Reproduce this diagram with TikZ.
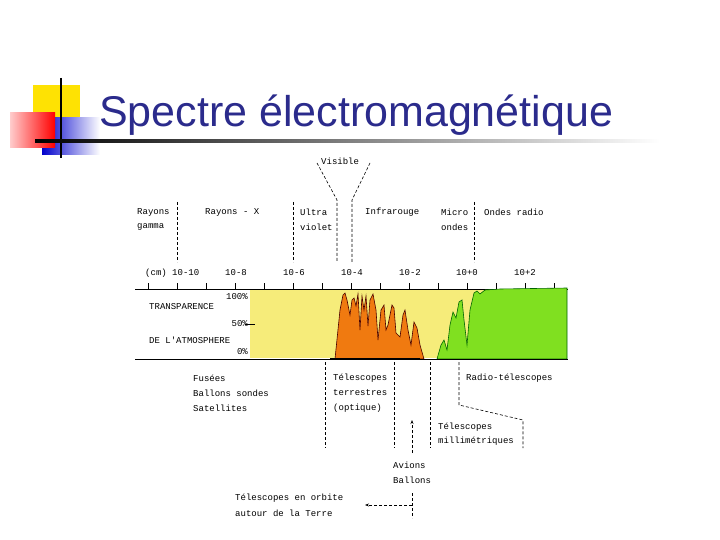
\documentclass[tikz,border=0pt]{standalone}
\usepackage{fontspec}
\setmainfont{Liberation Sans}
\newfontfamily\mono{Liberation Mono}
\usetikzlibrary{arrows.meta}
\definecolor{ttl}{HTML}{2B2B8C}
\definecolor{pyel}{HTML}{F6EC7A}
\definecolor{orng}{HTML}{F07A10}
\definecolor{grn}{HTML}{80E020}
\tikzset{lbl/.style={font=\mono\fontsize{9}{10}\selectfont,anchor=west,inner sep=0pt},
 dl/.style={dashed,dash pattern=on 3pt off 2pt,line width=0.6pt},
 tk/.style={line width=0.8pt}}
\begin{document}
\begin{tikzpicture}[x=1pt,y=-1pt]
\useasboundingbox (0,0) rectangle (720,540);
\fill[white] (0,0) rectangle (720,540);
% logo
\fill[yellow!85!orange] (33,85) rectangle (80,118);
\shade[left color=blue!80!black,right color=white] (42,118) rectangle (100,155);
\shade[left color=red!20,right color=red] (10,113) rectangle (55,148);
\draw[line width=1.5pt] (61,78) -- (61,158);
\shade[left color=black,right color=white] (35,140) rectangle (660,142.5);
\node[anchor=base west,text=ttl,font=\fontsize{43}{50}\selectfont,inner sep=0pt] (title) at (99,127) {Spectre électromagnétique};
% top labels
\node[lbl] (vis) at (321,161) {Visible};
\node[lbl] (rg1) at (137,212) {Rayons};
\node[lbl] (rg2) at (137,227) {gamma};
\node[lbl] (rx) at (205,212) {Rayons - X};
\node[lbl] (uv1) at (300,212) {Ultra};
\node[lbl] (uv2) at (300,227) {violet};
\node[lbl] (ir) at (365,212) {Infrarouge};
\node[lbl] (mo1) at (441,212) {Micro};
\node[lbl] (mo2) at (441,227) {ondes};
\node[lbl] (or) at (484,212) {Ondes radio};
\coordinate (f1) at (317,163); \coordinate (f2) at (370,163);
\draw[dl] (f1) -- (337,200) -- (337,262);
\draw[dl] (f2) -- (352,200) -- (352,262);
\foreach \x in {177,293,474} \draw[dl] (\x,202) -- (\x,262);
% axis
\foreach \k in {0,...,14} \draw[tk] (148+29*\k,283) -- (148+29*\k,289);
\draw[tk] (135,289) -- (568,289);
\node[lbl] at (145,273) {(cm) 10-10};
\foreach \x/\t in {236/10-8,294/10-6,352/10-4,410/10-2,467/10+0,525/10+2}
 \node[lbl,anchor=center] at (\x,273) {\t};
% chart
\fill[pyel] (250,289.5) rectangle (567,358);
\fill[orng,draw=black!70!red,line width=0.6pt] (335,359) -- (340,310) -- (343,295) -- (345,293) -- (347,300) -- (350,315) -- (352,300) -- (354,298) -- (356,306) -- (358,294) -- (360,330) -- (362,296) -- (364,310) -- (366,296) -- (368,326) -- (370,300) -- (373,294) -- (376,310) -- (378,340) -- (381,310) -- (384,305) -- (386,330) -- (388,325) -- (392,305) -- (394,308) -- (396,333) -- (400,337) -- (403,315) -- (405,310) -- (408,330) -- (411,345) -- (414,322) -- (417,328) -- (420,345) -- (424,359) -- cycle;
\fill[grn,draw=black!60!green,line width=0.6pt] (437,359) -- (441,345) -- (444,340) -- (447,350) -- (450,325) -- (453,312) -- (456,318) -- (459,302) -- (462,300) -- (464,320) -- (467,345) -- (470,310) -- (474,293) -- (477,291) -- (480,294) -- (485,290) -- (500,289) -- (567,288) -- (567,359) -- cycle;
\draw[line width=2pt] (330,358.5) -- (420,358.5);
\draw[tk] (135,359.5) -- (568,359.5);
\draw[tk] (245,324) -- (255,324);
\node[lbl,anchor=east] at (248,297) {100\%};
\node[lbl,anchor=east] at (248,324) {50\%};
\node[lbl,anchor=east] at (248,352) {0\%};
\node[lbl] at (149,307) {TRANSPARENCE};
\node[lbl] at (149,340) {DE L'ATMOSPHERE};
% bottom
\node[lbl] (fu) at (193,378) {Fusées};
\node[lbl] at (193,393) {Ballons sondes};
\node[lbl] at (193,408) {Satellites};
\node[lbl] (tt) at (333,378) {Télescopes};
\node[lbl] at (333,393) {terrestres};
\node[lbl] at (333,408) {(optique)};
\node[lbl] (rt) at (466,378) {Radio-télescopes};
\node[lbl] (tm) at (438,427) {Télescopes};
\node[lbl] at (438,441) {millimétriques};
\node[lbl] (av) at (393,465) {Avions};
\node[lbl] (ba) at (393,480) {Ballons};
\node[lbl] (to) at (235,498) {Télescopes en orbite};
\node[lbl] at (235,513) {autour de la Terre};
\foreach \x in {325,394,430} \draw[dl] (\x,362) -- (\x,448);
\draw[dl] (459,362) -- (459,405) -- (523,420) -- (523,448);
\coordinate (ab) at (412,505);
\coordinate (ac) at (412,453);
\draw[dl,-{Stealth[length=4pt]}] (ac) -- (412,420);
\draw[dl,-{Stealth[length=4pt]}] (ab) -- (365,505);
\draw[dl] (412,493) -- (412,518);
\end{tikzpicture}
\end{document}
